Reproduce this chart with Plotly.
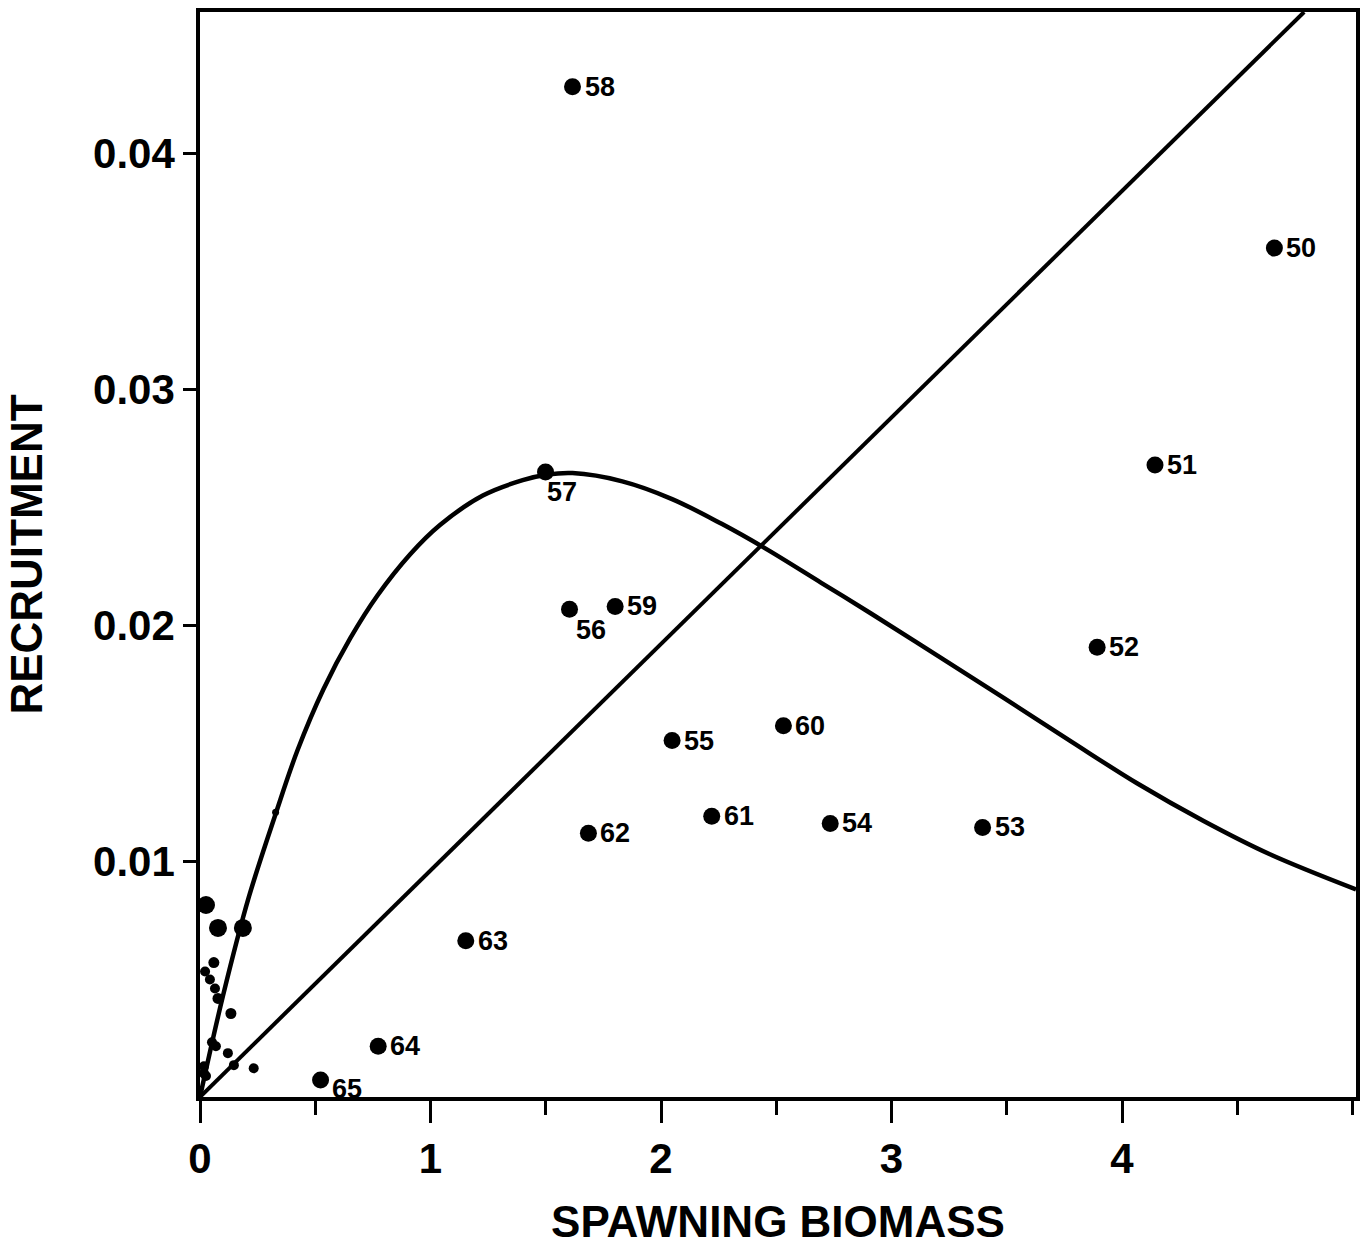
import plotly.graph_objects as go

# Labelled annual observations (year, spawning biomass, recruitment)
years = ["50", "51", "52", "53", "54", "55", "56", "57", "58", "59", "60", "61", "62", "63", "64", "65"]
biomass = [4.661, 4.143, 3.892, 3.395, 2.734, 2.048, 1.603, 1.499, 1.616, 1.801, 2.531, 2.220, 1.685, 1.153, 0.773, 0.523]
recruit = [0.03599, 0.02679, 0.01907, 0.01143, 0.01160, 0.01511, 0.02068, 0.02650, 0.04283, 0.02080, 0.01574, 0.01190, 0.01118, 0.00662, 0.00215, 0.00072]

# Unlabelled cluster near the origin: larger dots
big_x = [0.026, 0.078, 0.186]
big_y = [0.00814, 0.00717, 0.00717]
# Unlabelled cluster near the origin: smaller dots
small_x = [0.060, 0.022, 0.043, 0.065, 0.078, 0.134, 0.052, 0.069, 0.121, 0.147, 0.233, 0.017, 0.017, 0.026, 0.328]
small_y = [0.00570, 0.00532, 0.00498, 0.00460, 0.00418, 0.00354, 0.00232, 0.00215, 0.00186, 0.00135, 0.00122, 0.00130, 0.00100, 0.00089, 0.01207]
small_sz = [11, 10, 10, 10, 11, 11, 10, 10, 10, 10, 10, 10, 10, 10, 7]

# Fitted stock-recruitment curve
curve_x = [0.0, 0.100, 0.212, 0.328, 0.423, 0.536, 0.652, 0.769, 0.911, 1.041, 1.227, 1.400, 1.503, 1.616, 1.832,
           2.048, 2.263, 2.445, 2.695, 2.911, 3.201, 3.490, 3.775, 4.065, 4.354, 4.639, 5.015]
curve_y = [0.0, 0.00430, 0.00848, 0.01200, 0.01470, 0.01730, 0.01945, 0.02125, 0.02300, 0.02425, 0.02550, 0.02615,
           0.02638, 0.02645, 0.02610, 0.02535, 0.02430, 0.02330, 0.02180, 0.02050, 0.01870, 0.01690, 0.01510,
           0.01330, 0.01170, 0.01030, 0.00880]

# Replacement line
line_x = [0.0, 4.79]
line_y = [0.0, 0.04600]

x_ticks = [0, 1, 2, 3, 4]
x_ticktext = ["0", "1", "2", "3", "4"]
y_ticks = [0.01, 0.02, 0.03, 0.04]
y_ticktext = ["0.01", "0.02", "0.03", "0.04"]

# Label placement (pixel offsets from the dot)
label_offsets = {"56": (21, -21, "center"), "57": (16, -20, "center"), "65": (26, -9, "center")}

FONT = "Liberation Sans, Arial, sans-serif"

fig = go.Figure()

fig.add_trace(go.Scatter(x=curve_x, y=curve_y, mode="lines",
                         line=dict(color="black", width=4.5, shape="spline", smoothing=1.0),
                         hoverinfo="skip", showlegend=False))
fig.add_trace(go.Scatter(x=line_x, y=line_y, mode="lines",
                         line=dict(color="black", width=4),
                         hoverinfo="skip", showlegend=False))
fig.add_trace(go.Scatter(x=biomass, y=recruit, mode="markers",
                         marker=dict(color="black", size=17, opacity=1, line=dict(width=0)),
                         cliponaxis=False, showlegend=False))
fig.add_trace(go.Scatter(x=big_x, y=big_y, mode="markers",
                         marker=dict(color="black", size=18, opacity=1, line=dict(width=0)),
                         cliponaxis=False, showlegend=False))
fig.add_trace(go.Scatter(x=small_x, y=small_y, mode="markers",
                         marker=dict(color="black", size=small_sz, opacity=1, line=dict(width=0)),
                         cliponaxis=False, showlegend=False))

for yr, xv, yv in zip(years, biomass, recruit):
    if yr in label_offsets:
        dx, dy, anc = label_offsets[yr]
    else:
        dx, dy, anc = 10, 0, "left"
    fig.add_annotation(x=xv, y=yv, text="<b>" + yr + "</b>", showarrow=False, xanchor=anc, yanchor="middle",
                       xshift=dx, yshift=dy,
                       font=dict(family=FONT, size=27, color="black"))

fig.update_layout(
    width=1367, height=1246,
    margin=dict(l=200, r=7, t=12, b=143),
    paper_bgcolor="white", plot_bgcolor="white",
    font=dict(family=FONT, color="black"),
)
fig.update_xaxes(range=[0, 5.015], showgrid=False, zeroline=False,
                 showline=True, linewidth=3.5, linecolor="black", mirror=True,
                 ticks="outside", ticklen=22, tickwidth=3, tickcolor="black",
                 tickvals=x_ticks, ticktext=x_ticktext,
                 tickfont=dict(size=42, family=FONT, weight="bold"),
                 minor=dict(dtick=0.5, tick0=0.5, ticks="outside", ticklen=14, tickwidth=3, tickcolor="black"),
                 title=dict(text="<b>SPAWNING BIOMASS</b>", font=dict(size=44), standoff=26))
fig.update_yaxes(range=[0, 0.046], showgrid=False, zeroline=False,
                 showline=True, linewidth=3.5, linecolor="black", mirror=True,
                 ticks="outside", ticklen=13, tickwidth=3, tickcolor="black",
                 tickvals=y_ticks, ticktext=y_ticktext,
                 tickfont=dict(size=42, family=FONT, weight="bold"),
                 title=dict(text="<b>RECRUITMENT</b>", font=dict(size=44), standoff=38))

fig.write_html("out.html")
